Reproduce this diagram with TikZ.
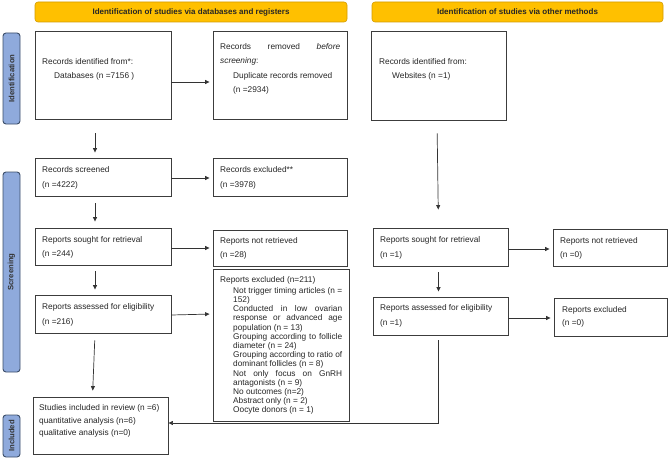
\documentclass[tikz,border=0pt]{standalone}
\usepackage{fontspec}
\setmainfont{Liberation Sans}
\usetikzlibrary{arrows.meta}
\definecolor{hdr}{RGB}{255,192,0}
\definecolor{hdrline}{RGB}{210,155,0}
\definecolor{side}{RGB}{143,170,220}
\definecolor{sideline}{RGB}{60,78,105}
\definecolor{boxline}{RGB}{60,60,60}
\newcommand\stk[2]{\vtop{\baselineskip=#1\lineskiplimit=-20pt\lineskip=0pt #2}}
\begin{document}
\begin{tikzpicture}[x=1pt,y=-1pt,
  box/.style={draw=boxline,line width=0.9pt,inner sep=0pt,fill=white},
  hdrbox/.style={draw=hdrline,fill=hdr,rounded corners=3pt,line width=0.6pt,inner sep=0pt,font=\fontsize{8}{9.6}\selectfont\bfseries,text=black!85},
  sidebox/.style={draw=sideline,fill=side,rounded corners=3pt,line width=0.9pt,inner sep=0pt,font=\fontsize{7.7}{9}\selectfont\bfseries,text=black!80},
  txt/.style={anchor=base west,inner sep=0pt,font=\fontsize{8.3}{10}\selectfont,text=black!85},
  arr/.style={draw=black!80,line width=0.7pt,-{Triangle[length=4.5pt,width=4pt]}},
]
\useasboundingbox (0,0) rectangle (669,460);

% headers
\node[hdrbox,minimum width=312pt,minimum height=20pt] (h1) at (191,12) {Identification of studies via databases and registers};
\node[hdrbox,minimum width=291pt,minimum height=20pt] (h2) at (517.5,12) {Identification of studies via other methods};

% side labels
\node[sidebox,minimum width=91pt,minimum height=17pt,rotate=90] (s1) at (11.5,78.5) {Identification};
\node[sidebox,minimum width=200pt,minimum height=17pt,rotate=90] (s2) at (11.5,272) {Screening};
\node[sidebox,minimum width=42pt,minimum height=17pt,rotate=90] (s3) at (11.5,436) {Included};

% left column boxes
\node[box,minimum width=136pt,minimum height=88pt] (b1) at (103,75) {};
\node[box,minimum width=134pt,minimum height=88pt] (b2) at (280,75) {};
\node[box,minimum width=136pt,minimum height=38pt] (b3) at (103,177) {};
\node[box,minimum width=134pt,minimum height=38pt] (b4) at (280,177) {};
\node[box,minimum width=136pt,minimum height=37pt] (b5) at (103,246.5) {};
\node[box,minimum width=134pt,minimum height=36pt] (b6) at (280,248) {};
\node[box,minimum width=136pt,minimum height=38pt] (b7) at (103,314) {};
\node[box,minimum width=136pt,minimum height=152pt] (b8) at (281,345) {};
\node[box,minimum width=135pt,minimum height=57pt] (b9) at (100.5,425.5) {};

% right column boxes
\node[box,minimum width=135pt,minimum height=89pt] (w1) at (439,75.5) {};
\node[box,minimum width=135pt,minimum height=38pt] (w2) at (440.5,247) {};
\node[box,minimum width=114pt,minimum height=37pt] (w3) at (610,247.5) {};
\node[box,minimum width=135pt,minimum height=38pt] (w4) at (440.5,316) {};
\node[box,minimum width=113pt,minimum height=38pt] (w5) at (610.5,317) {};

% texts
\node[txt] (t1) at (42,64.5) {\stk{14pt}{\hbox{Records identified from*:}\hbox{\kern12pt Databases (n =7156 )}}};
\node[txt] (t2) at (220,49.5) {\stk{14.3pt}{\hbox to 120pt{Records\hfill removed\hfill \textit{before}}\hbox{\textit{screening}:}\hbox{\kern13pt Duplicate records removed}\hbox{\kern13pt (n =2934)}}};
\node[txt] (t3) at (42,172.5) {\stk{15pt}{\hbox{Records screened}\hbox{(n =4222)}}};
\node[txt] (t4) at (220,172.5) {\stk{15pt}{\hbox{Records excluded**}\hbox{(n =3978)}}};
\node[txt] (t5) at (42,242.5) {\stk{14pt}{\hbox{Reports sought for retrieval}\hbox{(n =244)}}};
\node[txt] (t6) at (220,243.5) {\stk{14pt}{\hbox{Reports not retrieved}\hbox{(n =28)}}};
\node[txt] (t7) at (42,309.5) {\stk{15pt}{\hbox{Reports assessed for eligibility}\hbox{(n =216)}}};
\node[txt] (t8) at (220,282.5) {\stk{9.17pt}{\hbox{Reports excluded (n=211)}\vskip1.8pt
  \hbox{\kern13pt\hbox to 109pt{Not\hfill trigger\hfill timing\hfill articles\hfill (n\hfill =}}
  \hbox{\kern13pt 152)}
  \hbox{\kern13pt\hbox to 109pt{Conducted\hfill in\hfill low\hfill ovarian}}
  \hbox{\kern13pt\hbox to 109pt{response\hfill or\hfill advanced\hfill age}}
  \hbox{\kern13pt population (n = 13)}
  \hbox{\kern13pt\hbox to 109pt{Grouping\hfill according\hfill to\hfill follicle}}
  \hbox{\kern13pt diameter (n = 24)}
  \hbox{\kern13pt\hbox to 109pt{Grouping\hfill according\hfill to\hfill ratio\hfill of}}
  \hbox{\kern13pt dominant follicles (n = 8)}
  \hbox{\kern13pt\hbox to 109pt{Not\hfill only\hfill focus\hfill on\hfill GnRH}}
  \hbox{\kern13pt antagonists (n = 9)}
  \hbox{\kern13pt No outcomes (n=2)}
  \hbox{\kern13pt Abstract only (n = 2)}
  \hbox{\kern13pt Oocyte donors (n = 1)}}};
\node[txt] (t9) at (39,410.5) {\stk{12.5pt}{\hbox{Studies included in review (n =6)}\hbox{quantitative analysis (n=6)}\hbox{qualitative analysis (n=0)}}};
\node[txt] (u1) at (379,64.5) {\stk{14pt}{\hbox{Records identified from:}\hbox{\kern13pt Websites (n =1)}}};
\node[txt] (u2) at (380,242.5) {\stk{15pt}{\hbox{Reports sought for retrieval}\hbox{(n =1)}}};
\node[txt] (u3) at (560,243.5) {\stk{14pt}{\hbox{Reports not retrieved}\hbox{(n =0)}}};
\node[txt] (u4) at (380,310.5) {\stk{15pt}{\hbox{Reports assessed for eligibility}\hbox{(n =1)}}};
\node[txt] (u5) at (562,312.5) {\stk{13pt}{\hbox{Reports excluded}\hbox{(n =0)}}};

% arrows left column
\draw[arr,shorten >=3pt] ([yshift=-7pt]b1.east) -- ([yshift=-7pt]b2.west);
\draw[arr,shorten >=3pt] ([yshift=-1pt]b3.east) -- ([yshift=-1pt]b4.west);
\draw[arr,shorten >=3pt] (b5.east |- b6.west) -- (b6.west);
\draw[arr,shorten >=3pt] ([yshift=-1pt]b7.east) -- (b7.east -| b8.west);
\draw[arr,shorten <=14pt,shorten >=5pt] ([xshift=-8pt]b1.south) -- ([xshift=-8pt]b3.north);
\draw[arr,shorten <=7pt,shorten >=6pt] ([xshift=-8pt]b3.south) -- ([xshift=-8pt]b5.north);
\draw[arr,shorten <=6pt,shorten >=5pt] ([xshift=-8pt]b5.south) -- ([xshift=-8pt]b7.north);
\draw[arr,shorten <=7pt,shorten >=6pt] ([xshift=-8pt]b7.south) -- ([xshift=-8pt]b9.north);

% arrows right column
\draw[arr,shorten <=13pt,shorten >=18pt] ([xshift=-2pt]w1.south) -- ([xshift=-2pt]w2.north);
\draw[arr,shorten >=3pt] ([yshift=-2pt]w2.east) -- ([yshift=-2pt]w2.east -| w3.west);
\draw[arr,shorten <=6pt,shorten >=5pt] ([xshift=-2pt]w2.south) -- ([xshift=-2pt]w4.north);
\draw[arr,shorten >=3pt] ([yshift=-2pt]w4.east) -- ([yshift=-2pt]w4.east -| w5.west);
\draw[arr] ([xshift=-2pt,yshift=-5pt]w4.south) |- ([yshift=2.5pt]b9.east);
\end{tikzpicture}
\end{document}
